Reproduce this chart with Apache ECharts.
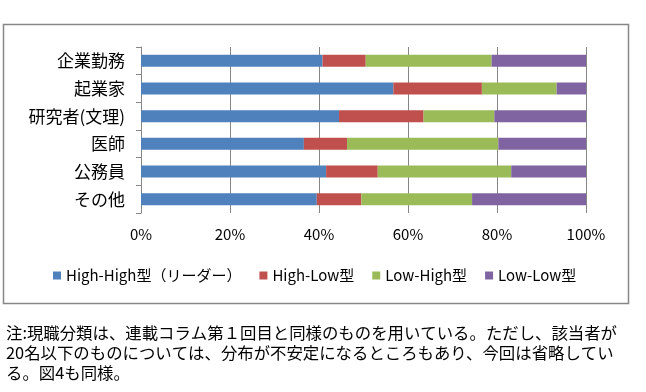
<!DOCTYPE html>
<html>
<head>
<meta charset="utf-8">
<script src="https://cdn.jsdelivr.net/npm/echarts@6/dist/echarts.min.js"></script>
<style>
html,body{margin:0;padding:0;background:#fff;}
#c{width:646px;height:392px;}
</style>
</head>
<body>
<div id="c"></div>
<script>
var categories = ['企業勤務', '起業家', '研究者(文理)', '医師', '公務員', 'その他'];
var seriesNames = ['High-High型（リーダー）', 'High-Low型', 'Low-High型', 'Low-Low型'];
var highHigh = [40.8, 56.7, 44.5, 36.6, 41.6, 39.5];
var highLow  = [9.7, 19.9, 19.0, 9.7, 11.6, 10.0];
var lowHigh  = [28.3, 16.8, 15.9, 34.0, 30.0, 24.9];
var lowLow   = [21.2, 6.6, 20.6, 19.7, 16.8, 25.6];
var tickLabels = ['0%', '20%', '40%', '60%', '80%', '100%'];
var noteLines = [
  '注:現職分類は、連載コラム第１回目と同様のものを用いている。ただし、該当者が',
  '20名以下のものについては、分布が不安定になるところもあり、今回は省略してい',
  'る。図4も同様。'
];
var colors = ['#4F81BD', '#C0504D', '#9BBB59', '#8064A2'];
var values = [highHigh, highLow, lowHigh, lowLow];

var FONT = '"Noto Sans CJK JP", "Noto Sans", sans-serif';
var chart = echarts.init(document.getElementById('c'), null, {renderer: 'canvas'});

var series = seriesNames.map(function (n, i) {
  return {
    name: n, type: 'bar', stack: 'total', barWidth: 12,
    itemStyle: {color: colors[i]},
    data: values[i]
  };
});

var graphics = [{
  type: 'rect', z: -1,
  shape: {x: 3.5, y: 24.5, width: 625, height: 279},
  style: {fill: '#fff', stroke: '#878787', lineWidth: 1.5}
}];
noteLines.forEach(function (t, i) {
  graphics.push({
    type: 'text', left: 6, top: 325 + i * 20,
    style: {text: t, font: '16.4px ' + FONT, fill: '#000'}
  });
});

chart.setOption({
  backgroundColor: '#fff',
  animation: false,
  color: colors,
  textStyle: {fontFamily: FONT},
  grid: {left: 141, right: 60, top: 47, bottom: 179, containLabel: false},
  legend: {
    left: 53, top: 268, padding: 0,
    icon: 'rect', itemWidth: 8, itemHeight: 8, itemGap: 18,
    textStyle: {fontSize: 15, color: '#000', fontFamily: FONT},
    data: seriesNames
  },
  xAxis: {
    type: 'value', min: 0, max: 100, interval: 20,
    axisLine: {show: false}, axisTick: {show: false},
    splitLine: {lineStyle: {color: '#868686', width: 1}},
    axisLabel: {
      fontSize: 15, color: '#000', margin: 14, fontFamily: FONT,
      formatter: function (v) { return tickLabels[Math.round(v / 20)]; }
    }
  },
  yAxis: {
    type: 'category', inverse: true, data: categories,
    axisLine: {lineStyle: {color: '#868686'}},
    axisTick: {show: true, length: 5, lineStyle: {color: '#868686'}},
    axisLabel: {fontSize: 17, color: '#000', margin: 16, fontFamily: FONT}
  },
  graphic: graphics,
  series: series
});
</script>
</body>
</html>
